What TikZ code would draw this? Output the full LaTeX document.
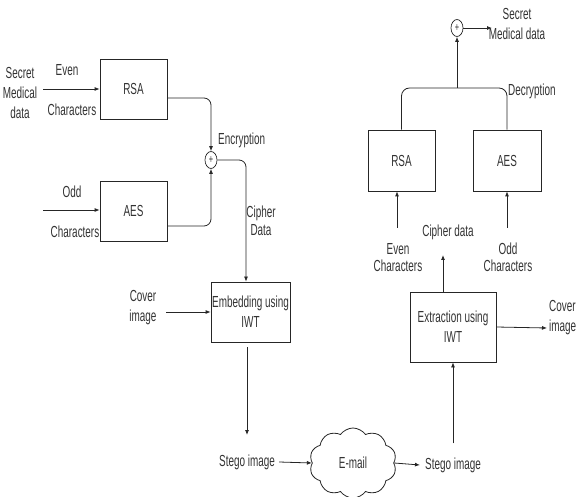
\documentclass[tikz,border=0pt]{standalone}
\usepackage{fontspec}
\setmainfont{Liberation Sans}[FakeStretch=0.62]
\usetikzlibrary{arrows.meta,shapes.symbols,shapes.geometric}
\begin{document}
\begin{tikzpicture}[x=1pt,y=-1pt,
  font=\fontsize{16}{20}\selectfont,
  txt/.style={text=black!80, inner sep=0pt, align=center},
  blk/.style={draw=black!85, line width=0.8pt, minimum width=67pt, minimum height=60pt, inner sep=0pt, text=black!80, align=center},
  con/.style={draw=black!85, line width=0.8pt, -{Latex[length=5pt,width=4pt]}},
  lin/.style={draw=black!85, line width=0.8pt},
  sumc/.style={draw=black!85, line width=0.7pt, ellipse, minimum width=12pt, minimum height=17pt, inner sep=0pt, text=black!80, font=\fontsize{12}{12}\selectfont}
]
\useasboundingbox (0,0) rectangle (576,497);
\clip (0,0) rectangle (576,497);
% ---------- left: encryption ----------
\node[txt] (secret) at (20,93) {Secret\\Medical\\data};
\node[txt] (even) at (67,70) {Even};
\node[txt] (evenc) at (72,110) {Characters};
\node[txt] (odd) at (72,192) {Odd};
\node[txt] (oddc) at (75,232) {Characters};
\node[blk] (rsaL) at (133.5,89) {RSA};
\node[blk] (aesL) at (133.5,211) {AES};
\coordinate (inA) at (43,89);
\coordinate (inB) at (43,210);
\draw[con] (inA) -- (inA -| rsaL.west);
\draw[con] (inB) -- (inB -| aesL.west);
\node[sumc] (plusL) at (211,160) {+};
\draw[con, rounded corners=7pt] ([yshift=-9pt]rsaL.east) -| (plusL.north);
\draw[con, rounded corners=7pt] ([yshift=-15pt]aesL.east) -| (plusL.south);
\node[txt, anchor=west] (enc) at (218,140) {Encryption};
\node[blk, minimum width=79pt] (embed) at (250.5,312) {Embedding using\\IWT};
\draw[con, rounded corners=7pt] (plusL.east) -| ([xshift=-4.5pt]embed.north);
\node[txt] (cipherL) at (261,221) {Cipher\\[-2pt]Data};
\node[txt] (coverL) at (143,307.5) {Cover\\image};
\coordinate (cvL) at (166,312);
\draw[con] (cvL) -- (cvL -| embed.west);
\node[txt] (stegoL) at (247,462) {Stego image};
\coordinate (eb1) at (247,347);
\coordinate (eb2) at (247,435);
\draw[con] (eb1) -- (eb2);
% ---------- middle: e-mail ----------
\node[cloud, cloud puffs=10, cloud puff arc=110, aspect=1.3, draw=black!85, line width=0.8pt, minimum width=87pt, minimum height=70pt, text=black!80, inner sep=0pt] (mail) at (353,463) {E-mail};
\draw[con] ([xshift=4pt]stegoL.east) -- (mail.west);
\node[txt] (stegoR) at (453,465) {Stego image};
\draw[con] (mail.east) -- ([xshift=-5pt]stegoR.west);
% ---------- right: extraction / decryption ----------
\node[blk, minimum width=86pt, minimum height=70pt] (extr) at (453,327) {Extraction using\\IWT};
\draw[con] ([yshift=14pt]stegoR.north) -- (extr.south);
\coordinate (coverRa) at (547,328);
\draw[con] (extr.east) -- (coverRa);
\node[txt, anchor=west, align=left] (coverR) at (549,318) {Cover\\image};
\node[txt] (cipherR) at (448,232) {Cipher data};
\coordinate (cdtip) at (443,255);
\draw[con] (extr.north -| cdtip) -- (cdtip);
\node[blk, minimum height=61pt] (rsaR) at (401.5,160.5) {RSA};
\node[blk, minimum height=61pt, minimum width=68pt] (aesR) at (507,160.5) {AES};
\node[txt] (evenR) at (398,257.5) {Even\\[-3pt]Characters};
\node[txt] (oddR) at (508,257.5) {Odd\\[-3pt]Characters};
\coordinate (evA) at (397,228);
\coordinate (odA) at (507,228);
\draw[con] (evA) -- (evA |- rsaR.south);
\draw[con] (odA) -- (odA |- aesR.south);
\node[sumc] (plusR) at (457,28) {+};
\coordinate (junc) at (457,88);
\draw[lin, rounded corners=8pt] (rsaR.north) |- (junc) -| (aesR.north);
\draw[con] (junc) -- (plusR.south);
\coordinate (secA) at (492,28);
\draw[con] (plusR.east) -- (secA);
\node[txt] (secretR) at (517,24) {Secret\\Medical data};
\node[txt, anchor=west] (dec) at (508,91) {Decryption};
\end{tikzpicture}
\end{document}
